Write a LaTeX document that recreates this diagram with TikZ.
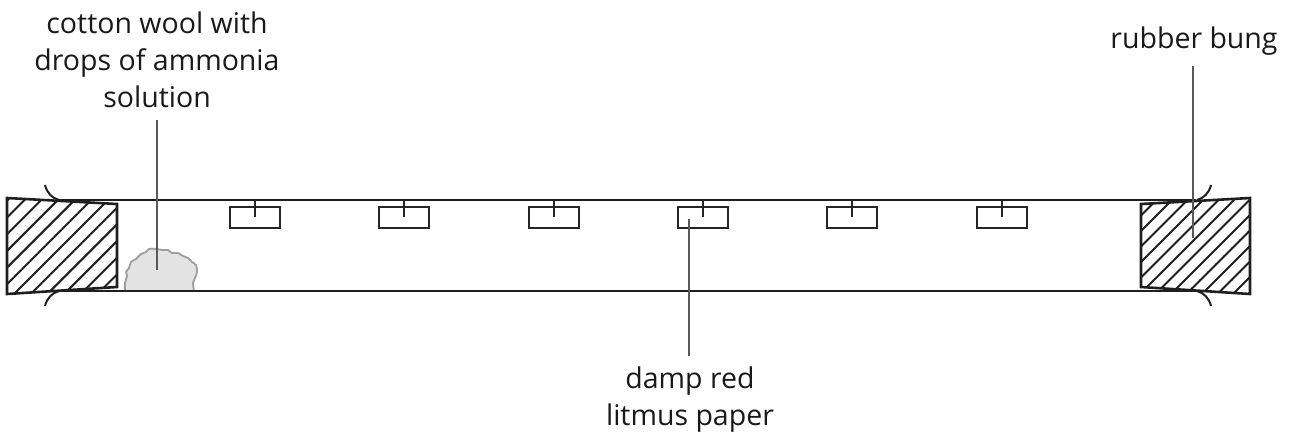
\documentclass[tikz,border=0pt]{standalone}
\usepackage{fontspec}
\setmainfont{Open Sans}
\tikzset{
  tube/.style={line width=2.6pt,draw=black!88},
  bung/.style={line width=2.6pt,draw=black!88,line join=miter},
  hatchline/.style={line width=2pt,draw=black!88},
  paper/.style={line width=2pt,draw=black!85},
  leader/.style={line width=1.6pt,draw=black!65},
  wool/.style={line width=1.8pt,draw=black!38,fill=black!11},
  caption/.style={align=center,inner sep=0pt,text=black!90,font=\fontsize{28.5}{37}\selectfont}
}
\begin{document}
\begin{tikzpicture}[x=1pt,y=-1pt]
\useasboundingbox (0,0) rectangle (1292,432);
% cotton wool
\draw[wool] plot[smooth,tension=0.6] coordinates {(125,291) (125,283) (127,276) (126,272) (129,268) (131,262) (136,259) (141,254) (146,252) (149,249) (157,249) (162,250) (168,250) (172,253) (178,253) (183,256) (188,258) (192,262) (196,265) (197,272) (195,278) (193,283) (194,291)};
% tube
\draw[tube] (57,200) -- (1196,200);
\draw[tube] (57,291) -- (1196,291);
\draw[tube,line width=2pt] (45,185) .. controls (47,193) and (52,198) .. (59,200);
\draw[tube,line width=2pt] (45,306) .. controls (47,298) and (52,293) .. (59,291);
\draw[tube,line width=2pt] (1211,185) .. controls (1209,193) and (1204,198) .. (1197,200);
\draw[tube,line width=2pt] (1211,306) .. controls (1209,298) and (1204,293) .. (1197,291);
% left bung
\fill[white] (7,198) -- (117,204) -- (117,287) -- (7,294) -- cycle;
\begin{scope}
\clip (7,198) -- (117,204) -- (117,287) -- (7,294) -- cycle;
\foreach \i in {-6,...,6} {
  \pgfmathsetmacro{\s}{308+\i*16.7}
  \draw[hatchline] ({\s-300},300) -- ({\s-190},190);
}
\end{scope}
\draw[bung] (7,198) -- (117,204) -- (117,287) -- (7,294) -- cycle;
% right bung
\fill[white] (1141,204) -- (1250,198) -- (1250,294) -- (1141,287) -- cycle;
\begin{scope}
\clip (1141,204) -- (1250,198) -- (1250,294) -- (1141,287) -- cycle;
\foreach \i in {-6,...,7} {
  \pgfmathsetmacro{\s}{1434+\i*15.5}
  \draw[hatchline] ({\s-300},300) -- ({\s-190},190);
}
\end{scope}
\draw[bung] (1141,204) -- (1250,198) -- (1250,294) -- (1141,287) -- cycle;
% litmus papers
\foreach \n/\c in {a/255,b/404,c/554,d/703,e/852,f/1002} {
  \node[paper,draw,rectangle,minimum width=50pt,minimum height=21pt,inner sep=0pt] (paper\n) at (\c,217) {};
  \coordinate (tick\n) at (\c,217);
  \coordinate (tickt\n) at (\c,200);
  \draw[paper] (tickt\n) -- (tick\n);
}
% labels
\node[caption] (cotton) at (157,60) {cotton wool with\\drops of ammonia\\solution};
\node[caption] (rubber) at (1194,41) {rubber bung};
\node[caption] (damp) at (690,400) {damp red\\litmus paper};
\coordinate (cottontip) at (157,270);
\coordinate (rubbertip) at (1193,238);
\coordinate (damptip) at (689,219);
\draw[leader,shorten <=12pt] (cotton.south -| cottontip) -- (cottontip);
\draw[leader,shorten <=11pt] (rubber.south -| rubbertip) -- (rubbertip);
\draw[leader,shorten <=11pt] (damp.north -| damptip) -- (damptip);
\end{tikzpicture}
\end{document}
